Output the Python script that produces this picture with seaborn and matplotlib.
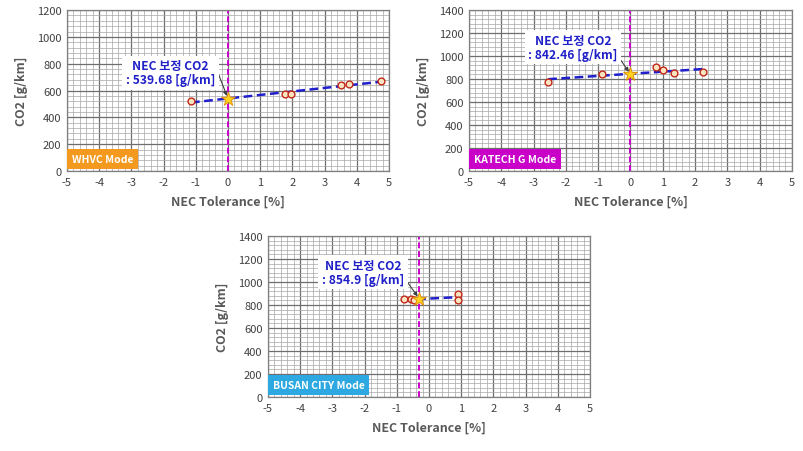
import numpy as np
import pandas as pd
import matplotlib
matplotlib.use("Agg")
import matplotlib.pyplot as plt
import seaborn as sns

# ---- data ----
modes = ["WHVC Mode", "KATECH G Mode", "BUSAN CITY Mode"]
mode_colors = ["#F39A1E", "#C800C8", "#2EA8E0"]

whvc_tol = [-1.15, 1.78, 1.97, 3.50, 3.75, 4.75]
whvc_co2 = [525, 572, 572, 642, 645, 672]

katech_tol = [-2.55, -0.88, 0.80, 1.00, 1.36, 2.25]
katech_co2 = [776, 843, 906, 877, 851, 857]

busan_tol = [-0.78, -0.57, -0.46, 0.91, 0.91]
busan_co2 = [849, 852, 843, 892, 846]

nec_tol = [0.0, 0.0, -0.3]
nec_co2 = [539.68, 842.46, 854.9]
nec_labels = ["539.68", "842.46", "854.9"]

y_max = [1200, 1400, 1400]
x_ticks = list(range(-5, 6))

datasets = [(whvc_tol, whvc_co2), (katech_tol, katech_co2), (busan_tol, busan_co2)]

sns.set_theme(style="white")
plt.rcParams["font.family"] = ["Noto Sans CJK KR", "DejaVu Sans"]
plt.rcParams["axes.unicode_minus"] = False

fig = plt.figure(figsize=(8.04, 4.52), dpi=100)
positions = [
    [0.0833, 0.6195, 0.4005, 0.356],
    [0.5833, 0.6195, 0.4017, 0.356],
    [0.3333, 0.1195, 0.4005, 0.356],
]
# annotation box centers (layout)
box_xy = [(-1.78, 731), (-1.78, 1078), (-2.05, 1087)]
arrow_start = [(-0.42, 800), (-0.40, 1005), (-0.70, 1010)]

grey_text = "#595959"
for i in range(3):
    ax = fig.add_axes(positions[i])
    df = pd.DataFrame({"tol": datasets[i][0], "co2": datasets[i][1]})
    ax.set_xlim(-5, 5)
    ax.set_ylim(0, y_max[i])
    ax.set_xticks(x_ticks)
    ax.set_yticks(np.arange(0, y_max[i] + 1, 200))
    ax.set_xticks(np.arange(-5, 5.01, 0.2), minor=True)
    ax.set_yticks(np.arange(0, y_max[i] + 1, 40), minor=True)
    ax.grid(which="minor", color="#A6A6A6", linewidth=0.5, zorder=0)
    ax.grid(which="major", color="#6E6E6E", linewidth=0.9, zorder=0)
    ax.set_axisbelow(True)
    for s in ax.spines.values():
        s.set_color("#7F7F7F")
        s.set_linewidth(0.9)
    ax.tick_params(which="both", length=0, labelsize=8, colors="#404040", pad=4)

    # vertical NEC line
    ax.axvline(nec_tol[i], color="#CC00CC", linestyle=(0, (3, 1.5)), linewidth=1.4, zorder=2)

    # trend line
    sns.regplot(data=df, x="tol", y="co2", ax=ax, scatter=False, ci=None, truncate=True,
                line_kws=dict(color="#1F1FCC", linestyle=(0, (3.5, 1.8)), linewidth=1.8, zorder=3))
    # points
    sns.scatterplot(data=df, x="tol", y="co2", ax=ax, marker="o", s=24,
                    facecolor="#FCE4C0", edgecolor="#C0281A", linewidth=1.0, zorder=4)
    # star
    ax.scatter([nec_tol[i]], [nec_co2[i]], marker="*", s=110, color="#FFD320",
               edgecolor="#E08A00", linewidth=0.6, zorder=5)

    ax.set_xlabel("NEC Tolerance [%]", fontsize=9, color=grey_text, fontweight="bold", labelpad=6)
    ax.set_ylabel("CO2 [g/km]", fontsize=9, color=grey_text, fontweight="bold", labelpad=6)

    # annotation
    ax.annotate("", xy=(nec_tol[i], nec_co2[i]), xytext=arrow_start[i],
                arrowprops=dict(arrowstyle="-|>", color="#404040", lw=0.8, mutation_scale=6),
                zorder=6)
    ax.text(box_xy[i][0], box_xy[i][1], "NEC 보정 CO2\n: " + nec_labels[i] + " [g/km]",
            ha="center", va="center", fontsize=8.7, fontweight="bold", color="#2020C8",
            linespacing=1.1,
            bbox=dict(boxstyle="square,pad=0.3", facecolor="white", edgecolor="none"), zorder=7)

    # mode label
    ax.text(-4.85, 0.075 * y_max[i], modes[i], ha="left", va="center", fontsize=7.5,
            fontweight="bold", color="white", zorder=7,
            bbox=dict(boxstyle="square,pad=0.45", facecolor=mode_colors[i], edgecolor="none"))

fig.savefig("out.png", dpi=100)
